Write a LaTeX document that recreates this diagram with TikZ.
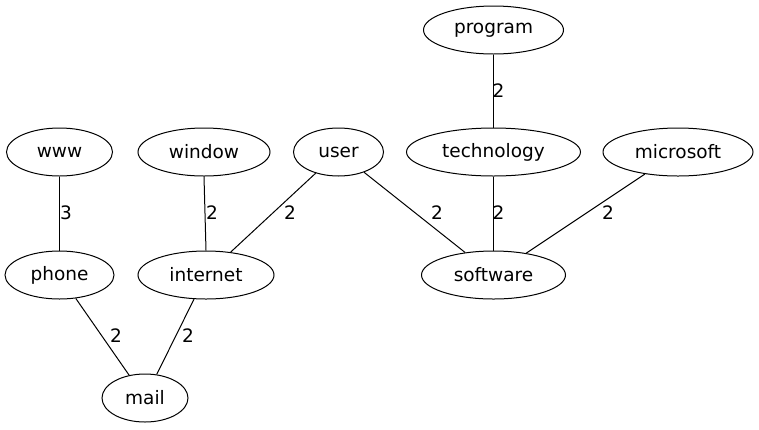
\documentclass[tikz,border=0pt]{standalone}
\usepackage{fontspec}
\setmainfont{DejaVu Sans}
\usetikzlibrary{shapes.geometric}
\tikzset{
  word/.style={draw, ellipse, line width=1pt, inner sep=0pt, minimum height=48pt, font=\fontsize{18.5}{20}\selectfont},
  weight/.style={inner sep=0pt, font=\fontsize{18.5}{20}\selectfont},
  link/.style={line width=1pt}
}

\begin{document}
\begin{tikzpicture}[x=1pt, y=-1pt]
			%%%%% START %%%%%
			\useasboundingbox (0, 0) rectangle (759, 429);
			
			\node[word, minimum width=140pt] (program) at (493.5, 30) {program};
			
			\node[word, minimum width=106pt] (www) at (59.5, 152) {www};
			\node[word, minimum width=132pt] (window) at (204, 152) {window};
			\node[word, minimum width=90pt] (user) at (338.5, 152) {user};
			\node[word, minimum width=174pt] (technology) at (493.5, 152) {technology};
			\node[word, minimum width=150pt] (microsoft) at (678, 152) {microsoft};
			
			\node[word, minimum width=109pt] (phone) at (59.5, 275) {phone};
			\node[word, minimum width=136pt] (internet) at (206, 275) {internet};
			\node[word, minimum width=144pt] (software) at (493.5, 275) {software};
			
			\node[word, minimum width=86pt] (mail) at (145, 398) {mail};
			
			\draw[link] (program) -- (technology);
			\draw[link] (www) -- (phone);
			\draw[link] (window.south) -- (internet.north);
			\draw[link] (user) -- (internet);
			\draw[link] (user) -- (software);
			\draw[link] (technology) -- (software);
			\draw[link] (microsoft) -- (software);
			\draw[link] (phone) -- (mail);
			\draw[link] (internet) -- (mail);
			
			\node[weight] (w1) at (498.5, 91) {2};
			\node[weight] (w2) at (66, 213) {3};
			\node[weight] (w3) at (212, 213) {2};
			\node[weight] (w4) at (290, 213) {2};
			\node[weight] (w5) at (437, 213) {2};
			\node[weight] (w6) at (498.5, 213) {2};
			\node[weight] (w7) at (608, 213) {2};
			\node[weight] (w8) at (116, 336) {2};
			\node[weight] (w9) at (188, 336) {2};
			%%%%% END %%%%%
		\end{tikzpicture}
\end{document}
